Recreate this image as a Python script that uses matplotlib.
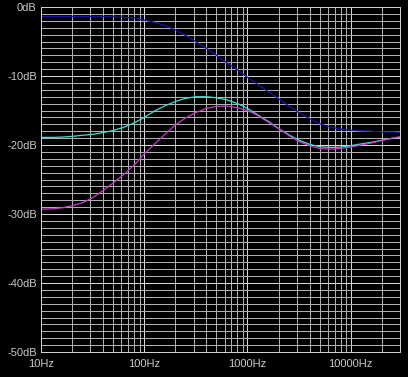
import matplotlib
matplotlib.use('Agg')
import matplotlib.pyplot as plt
from matplotlib.ticker import FixedLocator, MultipleLocator, NullFormatter

# frequencies (Hz), third-octave steps
freq = [10, 13, 16, 20, 25, 32, 40, 50, 63, 80, 100, 125, 160, 200, 250, 315, 400, 500,
        630, 800, 1000, 1250, 1600, 2000, 2500, 3150, 4000, 5000, 6300, 8000, 10000,
        12500, 16000, 20000, 25000, 30000]

# dark blue trace
blue_db = [-1.4, -1.4, -1.4, -1.4, -1.4, -1.4, -1.4, -1.42, -1.5, -1.6, -1.9, -2.2, -2.7,
           -3.3, -4.1, -5.0, -6.0, -7.0, -8.1, -9.1, -10.2, -11.2, -12.3, -13.3, -14.3,
           -15.3, -16.2, -16.9, -17.4, -17.7, -17.85, -17.95, -18.0, -18.1, -18.1, -18.15]

# cyan trace
cyan_db = [-18.9, -18.9, -18.85, -18.75, -18.6, -18.45, -18.2, -17.9, -17.45, -16.8, -16.0,
           -15.1, -14.3, -13.7, -13.25, -13.0, -13.0, -13.15, -13.45, -14.0, -14.7, -15.6,
           -16.6, -17.6, -18.5, -19.3, -19.9, -20.25, -20.35, -20.3, -20.1, -19.85, -19.6,
           -19.3, -19.05, -18.9]

# magenta trace
magenta_db = [-29.3, -29.25, -29.1, -28.8, -28.4, -27.6, -26.6, -25.5, -24.3, -22.9, -21.3,
              -19.9, -18.4, -17.1, -16.1, -15.3, -14.7, -14.4, -14.35, -14.6, -15.0, -15.7,
              -16.7, -17.6, -18.6, -19.5, -20.1, -20.5, -20.6, -20.5, -20.3, -20.0, -19.7,
              -19.35, -19.0, -18.8]

xticks = [10, 100, 1000, 10000]
xtick_labels = ['10Hz', '100Hz', '1000Hz', '10000Hz']
yticks = [0, -10, -20, -30, -40, -50]
ytick_labels = ['0dB', '-10dB', '-20dB', '-30dB', '-40dB', '-50dB']

plt.rcParams['font.family'] = ['Liberation Sans', 'DejaVu Sans']

fig = plt.figure(figsize=(4.08, 3.77), dpi=100, facecolor='black')
ax = fig.add_axes([41 / 408, 25 / 377, 359 / 408, 345 / 377], facecolor='black')

ax.set_xscale('log')
ax.set_xlim(10, 30000)
ax.set_ylim(-50, 0)

minor_x = [m * 10 ** d for d in range(1, 5) for m in range(2, 10) if m * 10 ** d < 30000]
ax.xaxis.set_major_locator(FixedLocator(xticks))
ax.xaxis.set_minor_locator(FixedLocator(minor_x))
ax.xaxis.set_minor_formatter(NullFormatter())
ax.set_xticklabels(xtick_labels)
ax.set_yticks(yticks)
ax.set_yticklabels(ytick_labels)
ax.yaxis.set_minor_locator(MultipleLocator(1))

ax.grid(True, which='major', color='#d8d8d8', linewidth=0.5, antialiased=False)
ax.grid(True, which='minor', color='#b0b0b0', linewidth=0.5, antialiased=False)
ax.set_axisbelow(True)

ax.tick_params(which='both', length=0, colors='#c8c8c8', labelsize=8)
ax.tick_params(axis='y', pad=3)
ax.tick_params(axis='x', pad=5)
for s in ax.spines.values():
    s.set_color('#d0d0d0')
    s.set_linewidth(0.5)
    s.set_antialiased(False)

ax.plot(freq, blue_db, color='#1414a8', linewidth=0.9)
ax.plot(freq, cyan_db, color='#40e0d0', linewidth=0.9)
ax.plot(freq, magenta_db, color='#c83cc8', linewidth=0.9)

fig.savefig('out.png', dpi=100, facecolor='black')
